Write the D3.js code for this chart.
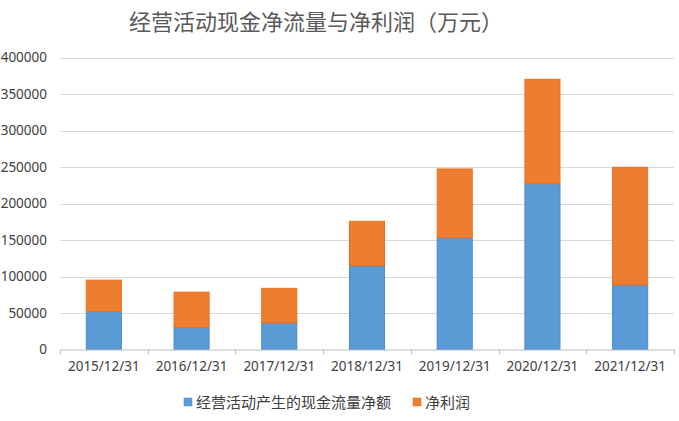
<!DOCTYPE html>
<html><head><meta charset="utf-8">
<script src="https://cdn.jsdelivr.net/npm/d3@7"></script>
<style>body{margin:0;background:#fff;}svg{display:block;font-family:"Noto Sans CJK SC","Microsoft YaHei",sans-serif;}</style>
</head><body><svg id="c" width="679" height="421"></svg>
<script>
const categories = ["2015/12/31","2016/12/31","2017/12/31","2018/12/31","2019/12/31","2020/12/31","2021/12/31"];
const cashFlow = [52000, 30000, 36300, 114800, 153200, 227100, 88400];
const netProfit = [43000, 48500, 47500, 60800, 94100, 143000, 161200];
const yTicks = [0,50000,100000,150000,200000,250000,300000,350000,400000];
const seriesNames = ["经营活动产生的现金流量净额","净利润"];
const title = "经营活动现金净流量与净利润（万元）";

(function(){
const svg = d3.select("#c");
const pl = 60, pr = 674, pt = 57.5, pb = 349.5;
const x = d3.scaleBand().domain(categories).range([pl, pr]).paddingInner(0).paddingOuter(0);
const y = d3.scaleLinear().domain([0, 400000]).range([pb, pt]);

svg.append("text").attr("x", 316).attr("y", 30).attr("text-anchor","middle")
  .attr("font-size", 22).attr("fill", "#595959").text(title);

// gridlines
svg.append("g").selectAll("line").data(yTicks.filter(d=>d>0)).join("line")
  .attr("x1", pl).attr("x2", pr).attr("y1", d=>Math.round(y(d))+0.5).attr("y2", d=>Math.round(y(d))+0.5)
  .attr("stroke", "#d9d9d9").attr("stroke-width", 1);

// y axis labels
const ya = svg.append("g").attr("transform", `translate(${pl},0)`)
  .call(d3.axisLeft(y).tickValues(yTicks).tickSize(0).tickPadding(13).tickFormat(d3.format("d")));
ya.select(".domain").remove();
ya.selectAll("text").attr("font-size", 13.5).attr("fill", "#404040").attr("font-family","\"Noto Sans\",sans-serif");

// stacked data
const data = categories.map((c,i)=>({cat:c, cf:cashFlow[i], np:netProfit[i]}));
const stack = d3.stack().keys(["cf","np"])(data);
const colors = ["#5B9BD5","#ED7D31"];
const strokes = ["#4A8AD0","#E8701F"];
const bw = x.bandwidth()/2.5;
stack.forEach((s,k)=>{
  svg.append("g").selectAll("rect").data(s).join("rect")
    .attr("x", d=>x(d.data.cat)+x.bandwidth()/2-bw/2)
    .attr("width", bw)
    .attr("y", d=>y(d[1]))
    .attr("height", d=>y(d[0])-y(d[1]))
    .attr("fill", colors[k]).attr("stroke", strokes[k]).attr("stroke-width", 1);
});

// x axis
const xa = svg.append("g").attr("transform", `translate(0,${pb})`)
  .call(d3.axisBottom(x).tickSize(0).tickPadding(12));
xa.select(".domain").attr("stroke","#bfbfbf");
xa.selectAll("text").attr("font-size", 13.5).attr("fill","#404040").attr("font-family","\"Noto Sans\",sans-serif");
const bounds = categories.map(c=>x(c)).concat([pr]);
svg.append("g").selectAll("line").data(bounds).join("line")
  .attr("x1", d=>Math.round(d)+0.5).attr("x2", d=>Math.round(d)+0.5)
  .attr("y1", pb).attr("y2", pb+5).attr("stroke","#bfbfbf");

// legend
const lg = svg.append("g");
const items = [{n:seriesNames[0], c:colors[0], s:strokes[0], x:184},{n:seriesNames[1], c:colors[1], s:strokes[1], x:413}];
items.forEach(it=>{
  lg.append("rect").attr("x", it.x).attr("y", 398).attr("width", 8).attr("height", 8).attr("fill", it.c).attr("stroke", it.s).attr("stroke-width",0.5);
  lg.append("text").attr("x", it.x+12).attr("y", 407.5).attr("font-size", 15).attr("fill","#404040").text(it.n);
});
})();
</script>
</body></html>
